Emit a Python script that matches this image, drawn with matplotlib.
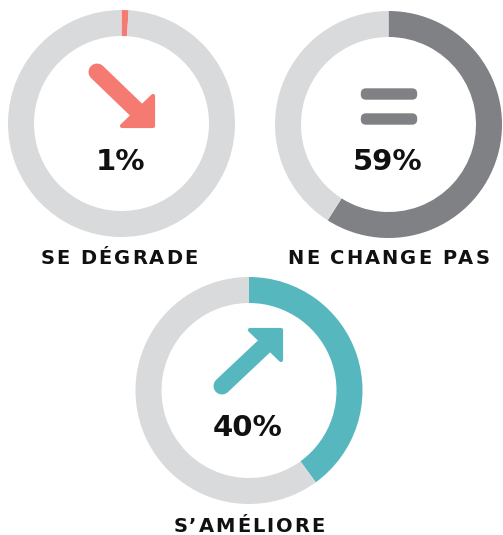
import matplotlib
matplotlib.use("Agg")
import matplotlib.pyplot as plt
from matplotlib.patches import Polygon, FancyBboxPatch
from matplotlib.font_manager import FontProperties

# ---- data ----
labels = ["SE DÉGRADE", "NE CHANGE PAS", "S\u2019AMÉLIORE"]
values = [1, 59, 40]
colors = ["#f47a72", "#808184", "#57b7be"]
rest_color = "#d9dadc"

W, H = 503, 535
fig = plt.figure(figsize=(W / 100, H / 100), dpi=100)
ax = fig.add_axes([0, 0, 1, 1])

# pixel layout (x, y from top)
centers = [(121.5, 123.5), (388.5, 124.5), (249, 390.5)]
R_OUT = 113.5
RING = 26
label_x = [119, 388.5, 249]
label_y = [259, 258, 527]


def Y(y):
    return H - y


for v, c, (cx, cy) in zip(values, colors, centers):
    ax.pie([v, 100 - v], colors=[c, rest_color], startangle=90, counterclock=False,
           radius=R_OUT, center=(cx, Y(cy)),
           wedgeprops=dict(width=RING, linewidth=0))
    ax.text(cx - 1, Y(cy + 38), f"{v}%", ha="center", va="center",
            fontsize=21, fontweight="heavy", color="#111111",
            family="DejaVu Sans")

ax.set_xlim(0, W)
ax.set_ylim(0, H)
ax.set_aspect("equal")
ax.axis("off")

PT = 0.72  # px -> pt


def arrow(tail, tip, leg1, leg2, color):
    ax.plot([tail[0], (leg1[0] + leg2[0]) / 2], [Y(tail[1]), Y((leg1[1] + leg2[1]) / 2)],
            color=color, lw=17 * PT, solid_capstyle="round")
    ax.add_patch(Polygon([(tip[0], Y(tip[1])), (leg1[0], Y(leg1[1])), (leg2[0], Y(leg2[1]))],
                         closed=True, facecolor=color, edgecolor=color, lw=3,
                         joinstyle="round"))


# down arrow (red)
arrow((97, 72), (153, 126), (122, 126), (153, 96), colors[0])
# up arrow (teal)
arrow((222, 386), (281, 330), (250, 330), (281, 360), colors[2])

# equal sign (grey)
for yb in (94, 119):
    ax.add_patch(FancyBboxPatch((366, Y(yb) - 0.5), 46, 1,
                                boxstyle="round,pad=5.2", facecolor=colors[1],
                                edgecolor="none"))

# letter-spaced labels
fig.canvas.draw()
renderer = fig.canvas.get_renderer()
fp = FontProperties(family="DejaVu Sans", weight="bold", size=14)
TRACK = 2.0
for lab, cx, ly in zip(labels, label_x, label_y):
    widths = []
    for ch in lab:
        w, h, d = renderer.get_text_width_height_descent(ch, fp, ismath=False)
        if ch == " ":
            w = renderer.get_text_width_height_descent("a a", fp, ismath=False)[0] - \
                renderer.get_text_width_height_descent("aa", fp, ismath=False)[0]
        widths.append(w)
    total = sum(widths) + TRACK * (len(lab) - 1)
    x = cx - total / 2
    for ch, w in zip(lab, widths):
        if ch != " ":
            ax.text(x, Y(ly), ch, fontproperties=fp, ha="left", va="center",
                    color="#111111")
        x += w + TRACK

fig.savefig("out.png", dpi=100, facecolor="white")
